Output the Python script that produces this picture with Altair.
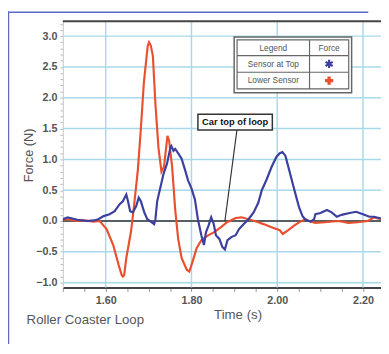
import altair as alt
import pandas as pd

# ---------------- data ----------------
lower_t = [1.500, 1.515, 1.534, 1.550, 1.572, 1.586, 1.602, 1.618, 1.630, 1.637, 1.640, 1.643, 1.648,
           1.659, 1.666, 1.675, 1.682, 1.689, 1.698, 1.701, 1.705, 1.710, 1.716, 1.723, 1.730, 1.736,
           1.744, 1.748, 1.755, 1.762, 1.769, 1.777, 1.789, 1.795, 1.803, 1.812, 1.823, 1.837, 1.853,
           1.869, 1.883, 1.903, 1.917, 1.937, 1.956, 1.968, 1.990, 2.006, 2.013, 2.025, 2.040, 2.054,
           2.066, 2.074, 2.089, 2.111, 2.143, 2.166, 2.188, 2.211, 2.226, 2.242]
lower_f = [0.03, 0.02, 0.00, 0.01, -0.01, 0.00, -0.13, -0.40, -0.71, -0.87, -0.90, -0.88, -0.60,
           -0.17, 0.24, 0.83, 1.50, 2.25, 2.84, 2.90, 2.85, 2.68, 1.89, 1.19, 0.80, 0.88,
           1.38, 1.30, 0.87, 0.19, -0.29, -0.60, -0.79, -0.82, -0.65, -0.44, -0.31, -0.24, -0.18,
           -0.10, -0.02, 0.05, 0.06, 0.02, -0.02, -0.05, -0.11, -0.15, -0.21, -0.15, -0.07, -0.01,
           0.03, 0.00, -0.03, -0.02, 0.00, -0.03, -0.02, 0.00, 0.06, 0.03]

top_t = [1.500, 1.511, 1.534, 1.557, 1.572, 1.583, 1.595, 1.609, 1.621, 1.632, 1.640, 1.648, 1.652,
         1.657, 1.663, 1.671, 1.677, 1.682, 1.690, 1.697, 1.705, 1.713, 1.716, 1.720, 1.728, 1.735,
         1.743, 1.751, 1.753, 1.758, 1.762, 1.770, 1.777, 1.785, 1.792, 1.800, 1.808, 1.815, 1.823,
         1.829, 1.834, 1.840, 1.846, 1.852, 1.857, 1.865, 1.872, 1.878, 1.884, 1.893, 1.903, 1.911,
         1.922, 1.933, 1.945, 1.956, 1.964, 1.975, 1.987, 1.998, 2.006, 2.012, 2.019, 2.027, 2.036,
         2.044, 2.051, 2.059, 2.066, 2.078, 2.086, 2.089, 2.101, 2.116, 2.127, 2.139, 2.150, 2.169,
         2.184, 2.200, 2.215, 2.226, 2.242]
top_f = [0.03, 0.06, 0.02, 0.00, 0.01, 0.03, 0.08, 0.11, 0.16, 0.27, 0.32, 0.43, 0.32,
         0.16, 0.14, 0.24, 0.38, 0.32, 0.14, 0.03, -0.01, -0.05, 0.03, 0.32, 0.56, 0.77,
         0.93, 1.20, 1.22, 1.14, 1.17, 1.09, 1.01, 0.83, 0.66, 0.53, 0.35, 0.03, -0.23,
         -0.39, -0.18, -0.07, 0.06, -0.05, -0.23, -0.29, -0.42, -0.46, -0.31, -0.26, -0.23, -0.13,
         -0.05, 0.03, 0.14, 0.30, 0.50, 0.67, 0.88, 1.04, 1.10, 1.12, 1.06, 0.85, 0.61,
         0.40, 0.22, 0.08, 0.02, -0.01, 0.03, 0.11, 0.13, 0.18, 0.14, 0.07, 0.10, 0.13,
         0.15, 0.11, 0.07, 0.07, 0.04]

series_names = ["Sensor at Top", "Lower Sensor"]
legend_header = ["Legend", "Force"]
x_major = [1.60, 1.80, 2.00, 2.20]
y_major = [-1.0, -0.5, 0.0, 0.5, 1.0, 1.5, 2.0, 2.5, 3.0]
x_minor = [1.50, 1.55, 1.60, 1.65, 1.70, 1.75, 1.80, 1.85, 1.90, 1.95, 2.00, 2.05, 2.10, 2.15, 2.20]
y_minor = [-1.0, -0.9, -0.8, -0.7, -0.6, -0.5, -0.4, -0.3, -0.2, -0.1, 0.0, 0.1, 0.2, 0.3, 0.4,
           0.5, 0.6, 0.7, 0.8, 0.9, 1.0, 1.1, 1.2, 1.3, 1.4, 1.5, 1.6, 1.7, 1.8, 1.9, 2.0, 2.1,
           2.2, 2.3, 2.4, 2.5, 2.6, 2.7, 2.8, 2.9, 3.0, 3.1, 3.2]
annotation_text = "Car top of loop"
annotation_line = {"x": [1.906], "y": [1.477], "x2": [1.878], "y2": [0.0]}
title_text = "Roller Coaster Loop"
x_title = "Time (s)"
y_title = "Force (N)"

# ---------------- styling ----------------
BLUE = "#3b3f9e"
RED = "#e8502f"
GRID = "#a9d9e8"
FONT = "Liberation Sans"
W, H = 325, 272

xs = alt.Scale(domain=[1.5, 2.242], nice=False, zero=False)
ys = alt.Scale(domain=[-1.08, 3.24], nice=False, zero=False)

xaxis = alt.Axis(values=x_minor,
                 labelExpr="abs(datum.value*5 - round(datum.value*5)) < 0.001 ? format(datum.value, '.2f') : ''",
                 title=None, grid=False, tickSize=4, tickColor="#999", tickWidth=1,
                 domainColor="#444", domainWidth=2, labelFont=FONT, labelFontSize=11,
                 labelFontWeight="bold", labelColor="#555", labelPadding=3,
                 labelOverlap=False, labelFlush=False)
yaxis = alt.Axis(values=y_minor,
                 labelExpr="abs(datum.value*2 - round(datum.value*2)) < 0.001 ? format(datum.value, '.1f') : ''",
                 title=None, grid=False, tickSize=3, tickColor="#bbb", tickWidth=1,
                 domainColor="#c8c8c8", domainWidth=1, labelFont=FONT, labelFontSize=11,
                 labelFontWeight="bold", labelColor="#555", labelPadding=3,
                 labelOverlap=False, labelFlush=False)

one = pd.DataFrame({"k": [0]})

vgrid = alt.Chart(pd.DataFrame({"x": x_major})).mark_rule(color=GRID, strokeWidth=1.5).encode(
    x=alt.X("x:Q", scale=xs, axis=xaxis))
hgrid = alt.Chart(pd.DataFrame({"y": y_major})).mark_rule(color=GRID, strokeWidth=1.5).encode(
    y=alt.Y("y:Q", scale=ys, axis=yaxis))
zero_line = alt.Chart(pd.DataFrame({"y": [0.0]})).mark_rule(color="#333", strokeWidth=1.5).encode(
    y=alt.Y("y:Q", scale=ys, axis=yaxis))
top_border = alt.Chart(one).mark_rule(color="#444", strokeWidth=2).encode(
    x=alt.value(0), x2=alt.value(W), y=alt.value(0))

df_lower = pd.DataFrame({"t": lower_t, "f": lower_f})
df_top = pd.DataFrame({"t": top_t, "f": top_f})
red_line = alt.Chart(df_lower).mark_line(color=RED, strokeWidth=2.2, clip=True).encode(
    x=alt.X("t:Q", scale=xs, axis=xaxis), y=alt.Y("f:Q", scale=ys, axis=yaxis))
blue_line = alt.Chart(df_top).mark_line(color=BLUE, strokeWidth=2.2, clip=True).encode(
    x=alt.X("t:Q", scale=xs, axis=xaxis), y=alt.Y("f:Q", scale=ys, axis=yaxis))

# ---------------- legend table ----------------
def rect(x, x2, y, y2, **kw):
    return alt.Chart(one).mark_rect(**kw).encode(
        x=alt.value(x), x2=alt.value(x2), y=alt.value(y), y2=alt.value(y2))

def hrule(x, x2, y, **kw):
    return alt.Chart(one).mark_rule(**kw).encode(x=alt.value(x), x2=alt.value(x2), y=alt.value(y))

def vrule(x, y, y2, **kw):
    return alt.Chart(one).mark_rule(**kw).encode(x=alt.value(x), y=alt.value(y), y2=alt.value(y2))

def label(txt, x, y, size=8.5, color="#555", weight="normal", align="center", angle=0):
    return alt.Chart(one).mark_text(text=txt, fontSize=size, font=FONT, color=color,
                                    fontWeight=weight, align=align, baseline="middle",
                                    angle=angle).encode(x=alt.value(x), y=alt.value(y))

legend_layers = [
    rect(175, 295, 16, 73, fill="white", stroke="#666", strokeWidth=1.5),
    rect(178, 292, 19, 69, fill="white", stroke="#666", strokeWidth=1.2),
    hrule(178, 292, 35, color="#666", strokeWidth=1.2),
    hrule(178, 292, 52, color="#666", strokeWidth=1.2),
    vrule(252, 19, 69, color="#666", strokeWidth=1.2),
    label(legend_header[0], 215, 27),
    label(legend_header[1], 272, 27),
    label(series_names[0], 215, 43.5),
    label(series_names[1], 215, 60.5),
    alt.Chart(one).mark_point(shape="M0,-1L0,1M-0.87,-0.5L0.87,0.5M-0.87,0.5L0.87,-0.5",
                              size=70, stroke=BLUE, strokeWidth=2.2, filled=False, opacity=1).encode(
        x=alt.value(272), y=alt.value(43.5)),
    alt.Chart(one).mark_point(shape="cross", size=70, fill=RED, filled=True, opacity=1).encode(
        x=alt.value(272), y=alt.value(60.5)),
]

# ---------------- annotation ----------------
ann_rule = alt.Chart(pd.DataFrame(annotation_line)).mark_rule(color="#333", strokeWidth=1.2).encode(
    x=alt.X("x:Q", scale=xs, axis=xaxis), y=alt.Y("y:Q", scale=ys, axis=yaxis),
    x2="x2:Q", y2="y2:Q")
ann_box = rect(138, 214, 95, 111, fill="white", stroke="#333", strokeWidth=1.5)
ann_text = label(annotation_text, 176, 103, size=9.5, color="#111", weight="bold")

# ---------------- titles and frame ----------------
titles = [
    label(y_title, -34, 137, size=13, color="#555", angle=270),
    label(x_title, 179, 300, size=13.5, color="#555"),
    label(title_text, -37, 305, size=13.5, color="#555", align="left"),
]
frame = [
    vrule(-55.5, -10, 336, color="#5a68c8", strokeWidth=1.5),
    hrule(-56, 312, -9.3, color="#5a68c8", strokeWidth=1.5),
]

chart = alt.layer(
    vgrid, hgrid, zero_line, top_border, red_line, blue_line,
    *legend_layers, ann_rule, ann_box, ann_text, *titles, *frame
).properties(
    width=W, height=H,
    autosize=alt.AutoSizeParams(type="none"),
    padding={"left": 56, "top": 10, "right": 0, "bottom": 54},
    background="white",
).configure_view(stroke=None)

chart.save("out.html", embed_options={"renderer": "svg", "actions": False})
